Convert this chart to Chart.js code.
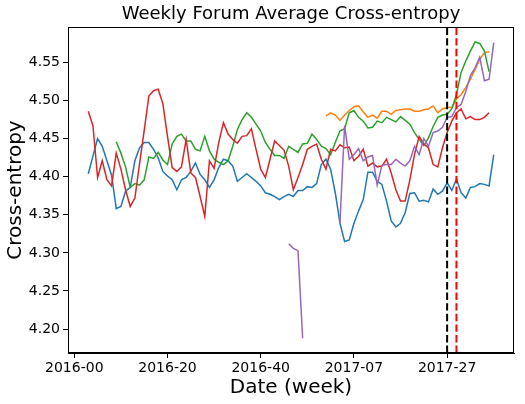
<!DOCTYPE html>
<html>
<head>
<meta charset="utf-8">
<script src="https://cdn.jsdelivr.net/npm/chart.js@4.4.1/dist/chart.umd.min.js"></script>
<style>
  html, body { margin: 0; padding: 0; background: #fff; }
  #wrap { width: 525px; height: 404px; }
</style>
</head>
<body>
<div id="wrap"><canvas id="c" width="525" height="404"></canvas></div>
<script>
// ---- Data (x = week index, 2016-00 = 0) ----
const chartTitle = 'Weekly Forum Average Cross-entropy';
const tickWeeks = [0, 20, 40, 60, 80];
const tickLabels = ['2016-00', '2016-20', '2016-40', '2017-07', '2017-27'];
const yTickValues = [4.20, 4.25, 4.30, 4.35, 4.40, 4.45, 4.50, 4.55];

const blueStart = 3;
const blueValues = [4.404, 4.427, 4.450, 4.440, 4.421, 4.402, 4.358, 4.361, 4.381, 4.386,
  4.421, 4.438, 4.445, 4.445, 4.436, 4.425, 4.407, 4.401, 4.396, 4.383,
  4.396, 4.399, 4.407, 4.418, 4.403, 4.396, 4.386, 4.396, 4.412, 4.423,
  4.421, 4.414, 4.394, 4.399, 4.404, 4.399, 4.394, 4.388, 4.379, 4.377,
  4.374, 4.370, 4.374, 4.377, 4.374, 4.382, 4.382, 4.387, 4.386, 4.391,
  4.416, 4.423, 4.410, 4.379, 4.339, 4.315, 4.317, 4.339, 4.355, 4.370,
  4.406, 4.406, 4.394, 4.390, 4.368, 4.342, 4.334, 4.339, 4.353, 4.378,
  4.379, 4.368, 4.369, 4.367, 4.384, 4.377, 4.381, 4.392, 4.382, 4.397,
  4.379, 4.372, 4.386, 4.387, 4.391, 4.390, 4.388, 4.429];

const orangeStart = 54;
const orangeValues = [4.480, 4.484, 4.481, 4.474, 4.481, 4.487, 4.492, 4.493, 4.485, 4.478,
  4.481, 4.477, 4.486, 4.486, 4.482, 4.487, 4.488, 4.489, 4.489, 4.486,
  4.486, 4.488, 4.489, 4.493, 4.484, 4.489, 4.491, 4.491, 4.502, 4.508,
  4.517, 4.528, 4.541, 4.554, 4.563, 4.564];

const greenStart = 9;
const greenValues = [4.446, 4.431, 4.413, 4.386, 4.391, 4.389, 4.396, 4.426, 4.424, 4.432,
  4.422, 4.416, 4.443, 4.453, 4.456, 4.447, 4.447, 4.436, 4.434, 4.453,
  4.434, 4.423, 4.419, 4.416, 4.421, 4.440, 4.462, 4.475, 4.484, 4.478,
  4.469, 4.460, 4.445, 4.436, 4.428, 4.428, 4.424, 4.440, 4.436, 4.432,
  4.443, 4.444, 4.456, 4.449, 4.440, 4.437, 4.429, 4.445, 4.460, 4.463,
  4.484, 4.487, 4.478, 4.473, 4.464, 4.465, 4.473, 4.471, 4.478, 4.475,
  4.472, 4.479, 4.474, 4.469, 4.458, 4.449, 4.441, 4.451, 4.466, 4.478,
  4.481, 4.482, 4.489, 4.508, 4.537, 4.552, 4.565, 4.577, 4.575, 4.565,
  4.538];

const redStart = 3;
const redValues = [4.486, 4.467, 4.399, 4.421, 4.396, 4.388, 4.431, 4.410, 4.383, 4.361,
  4.372, 4.417, 4.461, 4.506, 4.513, 4.515, 4.496, 4.453, 4.412, 4.407,
  4.413, 4.449, 4.405, 4.399, 4.374, 4.348, 4.421, 4.411, 4.445, 4.471,
  4.456, 4.449, 4.444, 4.453, 4.454, 4.463, 4.436, 4.410, 4.399, 4.423,
  4.447, 4.441, 4.435, 4.414, 4.383, 4.399, 4.416, 4.436, 4.440, 4.443,
  4.423, 4.410, 4.436, 4.434, 4.442, 4.438, 4.439, 4.421, 4.427, 4.436,
  4.414, 4.418, 4.413, 4.414, 4.423, 4.405, 4.383, 4.368, 4.368, 4.396,
  4.429, 4.453, 4.443, 4.438, 4.416, 4.413, 4.438, 4.458, 4.473, 4.484,
  4.489, 4.476, 4.479, 4.475, 4.475, 4.478, 4.484];

const purpleStart = 46;
const purpleValues = [4.312, 4.306, 4.303, 4.188, null, null, null, null, null, null,
  null, 4.339, 4.467, 4.423, 4.429, 4.437, 4.421, 4.426, 4.428, 4.389,
  4.415, 4.416, 4.416, 4.423, 4.418, 4.414, 4.421, 4.440, 4.429, 4.450,
  4.440, 4.458, 4.460, 4.465, 4.478, 4.479, 4.491, 4.495, 4.512, 4.533,
  4.543, 4.557, 4.526, 4.528, 4.576];

const cutoffBlackWeek = 80; // 2017-27
const cutoffRedWeek = 82;   // 2017-29

// ---- Axis limits ----
const xMin = -1.35, xMax = 94.35;
const yMin = 4.1686, yMax = 4.5966;

function toPoints(start, values) {
  return values.map((v, k) => ({ x: start + k, y: v }));
}
function vline(week) {
  return [{ x: week, y: yMin }, { x: week, y: yMax }];
}

const FONT = "'DejaVu Sans', sans-serif";

const series = (label, data, color, order) => ({
  label, data, borderColor: color, backgroundColor: color,
  borderWidth: 1.5, pointRadius: 0, tension: 0, spanGaps: false,
  fill: false, order
});

const frame = {
  id: 'frame',
  afterDatasetsDraw(chart) {
    const { ctx, chartArea: a } = chart;
    ctx.save();
    ctx.strokeStyle = '#000';
    ctx.lineWidth = 1;
    ctx.strokeRect(Math.round(a.left) + 0.5, Math.round(a.top) + 0.5,
      Math.round(a.right - a.left) - 1, Math.round(a.bottom - a.top) - 1);
    ctx.restore();
  },
  afterDraw(chart) {
    const { ctx, chartArea: a } = chart;
    ctx.save();
    ctx.fillStyle = '#000';
    ctx.font = "normal 18px " + FONT;
    ctx.textAlign = 'center';
    ctx.textBaseline = 'alphabetic';
    ctx.fillText(chartTitle, (a.left + a.right) / 2, 18.5);
    ctx.restore();
  }
};

new Chart(document.getElementById('c'), {
  type: 'line',
  data: {
    datasets: [
      series('Series A', toPoints(blueStart, blueValues), '#1f77b4', 7),
      series('Series B', toPoints(orangeStart, orangeValues), '#ff7f0e', 6),
      series('Series C', toPoints(greenStart, greenValues), '#2ca02c', 5),
      series('Series D', toPoints(redStart, redValues), '#d62728', 4),
      series('Series E', toPoints(purpleStart, purpleValues), '#9467bd', 3),
      Object.assign(series('2017-27', vline(cutoffBlackWeek), '#000000', 2), { borderWidth: 2, borderDash: [7.4, 3.2] }),
      Object.assign(series('2017-29', vline(cutoffRedWeek), '#ff0000', 1), { borderWidth: 2, borderDash: [7.4, 3.2] })
    ]
  },
  options: {
    responsive: false,
    animation: false,
    events: [],
    layout: { padding: { left: 0, right: 11, top: 27, bottom: 0 } },
    plugins: {
      legend: { display: false },
      tooltip: { enabled: false },
      title: { display: false }
    },
    scales: {
      x: {
        type: 'linear',
        min: xMin, max: xMax,
        afterBuildTicks: (s) => { s.ticks = tickWeeks.map(v => ({ value: v })); },
        afterFit: (s) => { s.height = 51; },
        grid: { display: true, drawOnChartArea: false, drawTicks: true, tickLength: 5, color: '#000', lineWidth: 1 },
        border: { display: true, color: '#000', width: 1 },
        ticks: {
          color: '#000', padding: 2, maxRotation: 0, autoSkip: false,
          font: { family: FONT, size: 14 },
          callback: (v) => { const k = tickWeeks.indexOf(v); return k >= 0 ? tickLabels[k] : ''; }
        },
        title: {
          display: true, text: 'Date (week)', color: '#000',
          font: { family: FONT, size: 20 },
          padding: { top: 0, bottom: 4.3 }
        }
      },
      y: {
        type: 'linear',
        min: yMin, max: yMax,
        afterBuildTicks: (s) => { s.ticks = yTickValues.map(v => ({ value: v })); },
        afterFit: (s) => { s.width = 68; },
        grid: { display: true, drawOnChartArea: false, drawTicks: true, tickLength: 5, color: '#000', lineWidth: 1 },
        border: { display: true, color: '#000', width: 1 },
        ticks: {
          color: '#000', padding: 3, autoSkip: false,
          font: { family: FONT, size: 14 },
          callback: (v) => Number(v).toFixed(2)
        },
        title: {
          display: true, text: 'Cross-entropy', color: '#000',
          font: { family: FONT, size: 20 },
          padding: { top: 4, bottom: 0 }
        }
      }
    }
  },
  plugins: [frame]
});
</script>
</body>
</html>
